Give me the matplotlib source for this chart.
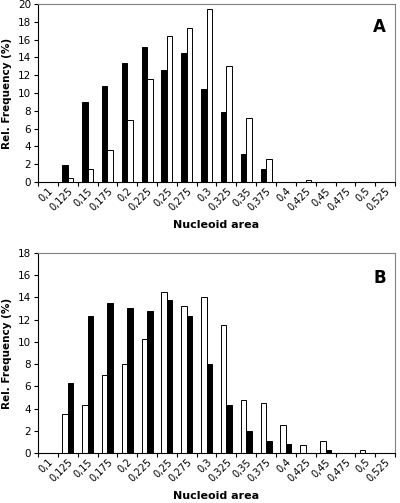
import matplotlib
matplotlib.use("Agg")
import matplotlib.pyplot as plt
import numpy as np

categories = ["0,1", "0,125", "0,15", "0,175", "0,2", "0,225", "0,25", "0,275", "0,3",
              "0,325", "0,35", "0,375", "0,4", "0,425", "0,45", "0,475", "0,5", "0,525"]

a_black = [0, 1.9, 9.0, 10.8, 13.35, 15.2, 12.6, 14.5, 10.5, 7.9, 3.2, 1.45, 0, 0, 0, 0, 0, 0]
a_white = [0, 0.4, 1.45, 3.65, 7.0, 11.55, 16.4, 17.25, 19.4, 13.0, 7.15, 2.6, 0, 0.2, 0, 0, 0, 0]

b_white = [0, 3.55, 4.3, 7.0, 8.05, 10.3, 14.5, 13.25, 14.0, 11.5, 4.75, 4.5, 2.5, 0.75, 1.05, 0, 0.25, 0]
b_black = [0, 6.3, 12.3, 13.5, 13.05, 12.8, 13.8, 12.3, 8.0, 4.3, 2.0, 1.05, 0.78, 0, 0.3, 0, 0, 0]

W, H = 400, 503
fig = plt.figure(figsize=(W / 100, H / 100), dpi=100)

def px_axes(left, top, right, bottom):
    return fig.add_axes([left / W, 1 - bottom / H, (right - left) / W, (bottom - top) / H])

axA = px_axes(38, 4, 395, 182)
axB = px_axes(38, 253, 395, 453)

x = np.arange(len(categories))
w = 0.28

def style(ax, ymax, ystep, letter, first, second, ylab_y, xlab_y):
    ax.bar(x - w / 2, first[0], width=w, color=first[1], edgecolor="black", linewidth=0.7)
    ax.bar(x + w / 2, second[0], width=w, color=second[1], edgecolor="black", linewidth=0.7)
    ax.set_xlim(-0.5, len(categories) - 0.5)
    ax.set_ylim(0, ymax)
    ax.set_yticks(np.arange(0, ymax + 0.1, ystep))
    ax.set_xticks(np.arange(-0.5, len(categories), 1.0), minor=False)
    ax.set_xticklabels([])
    ax.set_xticks(x, minor=True)
    ax.set_xticklabels(categories, minor=True, rotation=45, ha="right", rotation_mode="anchor",
                       fontsize=7)
    ax.tick_params(axis="x", which="minor", length=0, pad=3)
    ax.tick_params(axis="x", which="major", length=3, width=0.8, direction="out")
    ax.tick_params(axis="y", length=3, width=0.8, direction="out", labelsize=7.5, pad=2)
    for s in ["top", "right"]:
        ax.spines[s].set_color("#808080")
        ax.spines[s].set_linewidth(0.8)
    for s in ["left", "bottom"]:
        ax.spines[s].set_color("black")
        ax.spines[s].set_linewidth(0.8)
    fig.text(7 / W, 1 - ylab_y / H, "Rel. Frequency (%)", rotation=90, ha="center", va="center",
             fontsize=7.5, fontweight="bold")
    fig.text(216 / W, 1 - xlab_y / H, "Nucleoid area", ha="center", va="center",
             fontsize=8, fontweight="bold")
    ax.text(0.975, 0.92, letter, transform=ax.transAxes, ha="right", va="top",
            fontsize=12, fontweight="bold")

style(axA, 20, 2, "A", (a_black, "black"), (a_white, "white"), 93, 225)
style(axB, 18, 2, "B", (b_white, "white"), (b_black, "black"), 353, 496)

fig.savefig("out.png", dpi=100)
